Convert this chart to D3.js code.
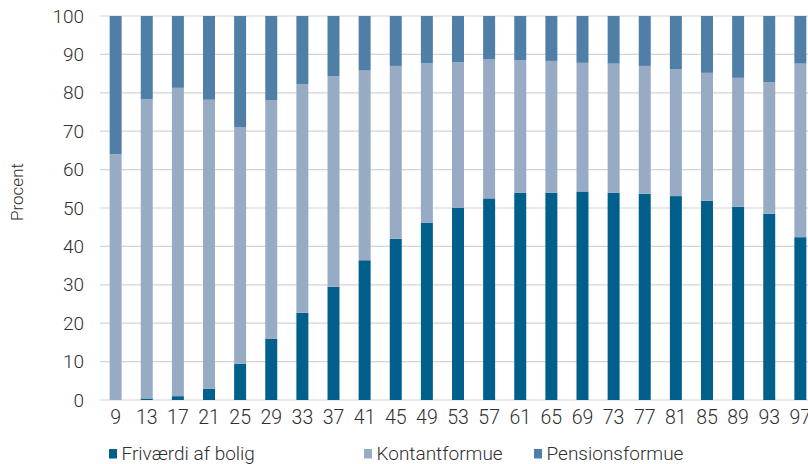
<!DOCTYPE html>
<html>
<head>
<meta charset="utf-8">
<script src="https://cdn.jsdelivr.net/npm/d3@7"></script>
<style>
  html, body { margin: 0; padding: 0; background: #fff; }
  svg { display: block; font-family: Roboto, "Noto Sans", sans-serif; font-weight: 300; }
</style>
</head>
<body>
<svg id="chart" width="808" height="464"></svg>
<script>
// Age groups (x categories)
const ages = ["9","13","17","21","25","29","33","37","41","45","49","53","57","61","65","69","73","77","81","85","89","93","97"];

// Shares of total wealth, percent
const frivaerdi = [0.1, 0.4, 1.0, 2.9, 9.4, 15.9, 22.7, 29.5, 36.4, 42.0, 46.2, 50.0, 52.5, 54.0, 54.0, 54.3, 54.0, 53.7, 53.1, 51.9, 50.3, 48.5, 42.4];
const kontant   = [63.9, 77.9, 80.3, 75.3, 61.7, 62.2, 59.6, 54.8, 49.4, 45.0, 41.5, 38.0, 36.3, 34.5, 34.3, 33.5, 33.6, 33.3, 33.1, 33.3, 33.6, 34.3, 45.2];
const pension   = [36.0, 21.7, 18.7, 21.8, 28.9, 21.9, 17.7, 15.7, 14.2, 13.0, 12.3, 12.0, 11.2, 11.5, 11.7, 12.2, 12.4, 13.0, 13.8, 14.8, 16.1, 17.2, 12.4];

const seriesNames = ["Friværdi af bolig", "Kontantformue", "Pensionsformue"];
const yTicks = [0, 10, 20, 30, 40, 50, 60, 70, 80, 90, 100];
const colors = ["#005f8b", "#97acc4", "#4f7fa6"];

const svg = d3.select("#chart");
const margin = { left: 100, top: 16, bottom: 400 };

const rows = ages.map((a, i) => ({ age: a, f: frivaerdi[i], k: kontant[i], p: pension[i] }));
const stack = d3.stack().keys(["f", "k", "p"]);
const layers = stack(rows);

const x = d3.scaleBand().domain(ages).range([margin.left, 816]).paddingInner(0.615).paddingOuter(0.31);
const y = d3.scaleLinear().domain([0, 100]).range([margin.bottom, margin.top]);

// Horizontal gridlines
svg.append("g")
  .selectAll("line")
  .data(yTicks)
  .join("line")
  .attr("x1", margin.left)
  .attr("x2", 808)
  .attr("y1", d => y(d))
  .attr("y2", d => y(d))
  .attr("stroke", "#d4d4d4")
  .attr("stroke-width", 1.2);

// Stacked bars
svg.append("g")
  .selectAll("g")
  .data(layers)
  .join("g")
  .attr("fill", (d, i) => colors[i])
  .selectAll("rect")
  .data(d => d)
  .join("rect")
  .attr("x", d => x(d.data.age))
  .attr("width", x.bandwidth())
  .attr("y", d => y(d[1]))
  .attr("height", d => y(d[0]) - y(d[1]));

// Y axis
const yAxis = svg.append("g")
  .attr("transform", `translate(${margin.left},0)`)
  .call(d3.axisLeft(y).tickValues(yTicks).tickSize(0).tickPadding(16));
yAxis.select(".domain").remove();
yAxis.selectAll("text")
  .attr("font-family", "Roboto")
  .attr("font-weight", 300)
  .attr("font-size", 19)
  .attr("fill", "#2f2f2f");

// X axis
const xAxis = svg.append("g")
  .attr("transform", `translate(0,${margin.bottom})`)
  .call(d3.axisBottom(x).tickSize(0).tickPadding(10));
xAxis.select(".domain").remove();
xAxis.selectAll("text")
  .attr("font-family", "Roboto")
  .attr("font-weight", 300)
  .attr("font-size", 19.5)
  .attr("fill", "#2f2f2f");

// Y axis title
svg.append("text")
  .attr("transform", `translate(23,192) rotate(-90)`)
  .attr("text-anchor", "middle")
  .attr("font-size", 17)
  .attr("fill", "#2f2f2f")
  .text("Procent");

// Legend
const legendX = [109, 364, 534];
const legend = svg.append("g")
  .selectAll("g")
  .data(seriesNames)
  .join("g")
  .attr("transform", (d, i) => `translate(${legendX[i]},449)`);
legend.append("rect")
  .attr("width", 8)
  .attr("height", 9.5)
  .attr("fill", (d, i) => colors[i]);
legend.append("text")
  .attr("x", 12.5)
  .attr("y", 10.5)
  .attr("font-size", 19)
  .attr("fill", "#2f2f2f")
  .text(d => d);
</script>
</body>
</html>
